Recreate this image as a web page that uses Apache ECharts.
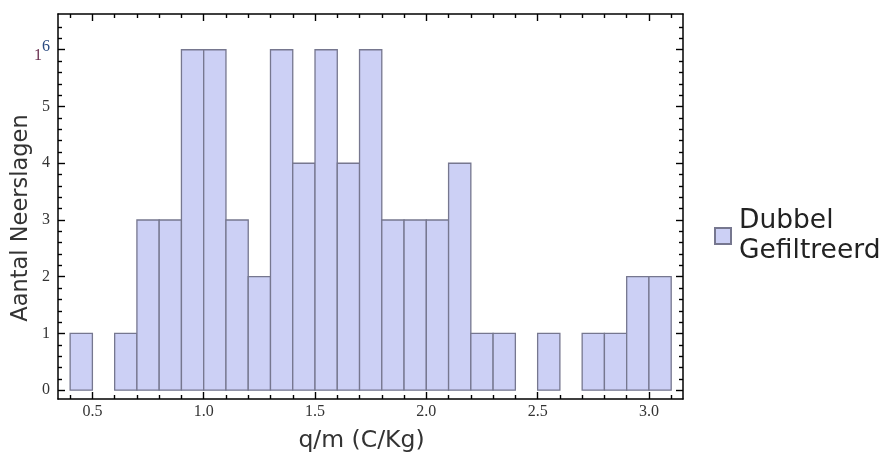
<!DOCTYPE html>
<html>
<head>
<meta charset="utf-8">
<script src="https://cdn.jsdelivr.net/npm/echarts@6/dist/echarts.min.js"></script>
<style>
  html, body { margin: 0; padding: 0; background: #fff; }
  #hot_graph { width: 890px; height: 461px; }
</style>
</head>
<body>
<div id="hot_graph"></div>
<script>
// histogram bins (width 0.1) and counts
var binStarts = [0.4, 0.5, 0.6, 0.7, 0.8, 0.9, 1.0, 1.1, 1.2, 1.3, 1.4, 1.5, 1.6, 1.7,
                 1.8, 1.9, 2.0, 2.1, 2.2, 2.3, 2.4, 2.5, 2.6, 2.7, 2.8, 2.9, 3.0];
var counts = [1, 0, 1, 3, 3, 6, 6, 3, 2, 6, 4, 6, 4, 6,
              3, 3, 3, 4, 1, 1, 0, 1, 0, 1, 1, 2, 2];
var binWidth = 0.1;
var xMajor = [0.5, 1.0, 1.5, 2.0, 2.5, 3.0];
var xMinor = [0.4, 0.6, 0.7, 0.8, 0.9, 1.1, 1.2, 1.3, 1.4, 1.6, 1.7, 1.8, 1.9,
              2.1, 2.2, 2.3, 2.4, 2.6, 2.7, 2.8, 2.9, 3.1];
var yMajor = [0, 1, 2, 3, 4, 5, 6];
var yMinor = [0.2, 0.4, 0.6, 0.8, 1.2, 1.4, 1.6, 1.8, 2.2, 2.4, 2.6, 2.8,
              3.2, 3.4, 3.6, 3.8, 4.2, 4.4, 4.6, 4.8, 5.2, 5.4, 5.6, 5.8, 6.2, 6.4];
var seriesName = 'Dubbel\nGefiltreerd';

var chart = echarts.init(document.getElementById('hot_graph'));

var xMin = 0.3455, xMax = 3.153, yMin = -0.155, yMax = 6.63;
var gridBox = { left: 58, right: 207, top: 14, bottom: 62 };

var histData = [];
for (var i = 0; i < binStarts.length; i++) {
    if (counts[i] > 0)
        histData.push([binStarts[i], binStarts[i] + binWidth, counts[i]]);
}

var tickLine = { color: '#000', width: 1.4 };
var labelFont = { fontFamily: 'Liberation Serif', fontSize: 16, color: '#333' };

function xAxisDef(gridIndex, pos, major) {
    return {
        type: 'value', gridIndex: gridIndex, position: pos, min: xMin, max: xMax,
        axisLine: { show: major, onZero: false, lineStyle: { color: '#000', width: 1.5 } },
        splitLine: { show: false },
        axisTick: { show: true, inside: true, length: major ? 7 : 4, lineStyle: tickLine,
                    customValues: major ? xMajor : xMinor },
        axisLabel: Object.assign({ show: major && pos === 'bottom', margin: 5,
                    customValues: xMajor,
                    formatter: function (v) { return v.toFixed(1); } }, labelFont),
        name: (major && pos === 'bottom') ? 'q/m (C/Kg)' : '',
        nameLocation: 'middle', nameGap: 42, nameMoveOverlap: false,
        nameTextStyle: { fontFamily: 'DejaVu Sans', fontSize: 23.5, color: '#333',
                         verticalAlign: 'middle', padding: [0, 18, 0, 0] }
    };
}

function yAxisDef(gridIndex, pos, major) {
    return {
        type: 'value', gridIndex: gridIndex, position: pos, min: yMin, max: yMax,
        axisLine: { show: major, onZero: false, lineStyle: { color: '#000', width: 1.5 } },
        splitLine: { show: false },
        axisTick: { show: true, inside: true, length: major ? 7 : 4, lineStyle: tickLine,
                    customValues: major ? yMajor : yMinor },
        axisLabel: Object.assign({ show: major && pos === 'left', margin: 8,
                    customValues: yMajor,
                    formatter: function (v) { return v === 6 ? '{a|1}{b|6}' : '' + v; },
                    rich: {
                        a: { fontFamily: 'Liberation Serif', fontSize: 16, color: '#6a3050',
                             padding: [12, 0, 0, 0] },
                        b: { fontFamily: 'Liberation Serif', fontSize: 16, color: '#2a4a80',
                             padding: [0, 0, 6, 0] }
                    } }, labelFont),
        name: (major && pos === 'left') ? 'Aantal Neerslagen' : '',
        nameLocation: 'middle', nameGap: 25, nameMoveOverlap: false,
        nameTextStyle: { fontFamily: 'DejaVu Sans', fontSize: 22.5, color: '#333',
                         padding: [0, 23, 0, 0] }
    };
}

var option = {
    animation: false,
    grid: [
        Object.assign({}, gridBox),
        Object.assign({}, gridBox)
    ],
    legend: {
        left: 709, top: 201,
        orient: 'vertical',
        icon: 'rect', itemWidth: 16, itemHeight: 16, itemGap: 0,
        textStyle: { fontFamily: 'DejaVu Sans', fontSize: 26.5, color: '#222', lineHeight: 30,
                     padding: [0, 0, 0, 3] },
        data: [seriesName]
    },
    xAxis: [
        xAxisDef(0, 'bottom', true), xAxisDef(0, 'top', true),
        xAxisDef(1, 'bottom', false), xAxisDef(1, 'top', false)
    ],
    yAxis: [
        yAxisDef(0, 'left', true), yAxisDef(0, 'right', true),
        yAxisDef(1, 'left', false), yAxisDef(1, 'right', false)
    ],
    series: [{
        name: seriesName,
        type: 'custom',
        xAxisIndex: 0, yAxisIndex: 0,
        encode: { x: [0, 1], y: 2 },
        itemStyle: { color: '#ccd0f5', borderColor: '#76778f', borderWidth: 1.3 },
        renderItem: function (params, api) {
            var p0 = api.coord([api.value(0), 0]);
            var p1 = api.coord([api.value(1), api.value(2)]);
            return {
                type: 'rect',
                shape: { x: p0[0], y: p1[1], width: p1[0] - p0[0], height: p0[1] - p1[1] },
                style: { fill: '#ccd0f5', stroke: '#76778f', lineWidth: 1.3 }
            };
        },
        data: histData
    }]
};

chart.setOption(option);
</script>
</body>
</html>
